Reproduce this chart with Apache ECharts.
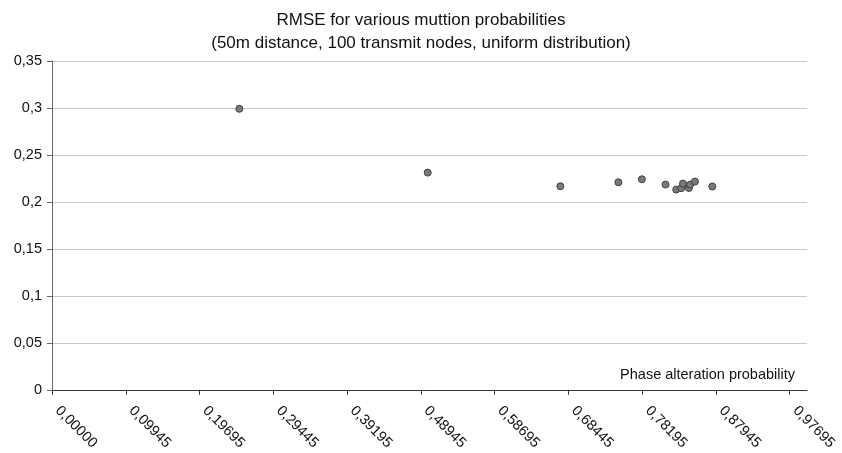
<!DOCTYPE html>
<html><head><meta charset="utf-8">
<script src="https://cdn.jsdelivr.net/npm/echarts@6/dist/echarts.min.js"></script>
<style>html,body{margin:0;padding:0;background:#fff}#c{width:842px;height:453px}</style>
</head><body><div id="c"></div>
<script>
var titleLines = ['RMSE for various muttion probabilities', '(50m distance, 100 transmit nodes, uniform distribution)'];
var xAxisName = 'Phase alteration probability';
var xTickValues = [0.00195, 0.09945, 0.19695, 0.29445, 0.39195, 0.48945, 0.58695, 0.68445, 0.78195, 0.87945, 0.97695];
var xTickLabels = ['0,00000', '0,09945', '0,19695', '0,29445', '0,39195', '0,48945', '0,58695', '0,68445', '0,78195', '0,87945', '0,97695'];
var yTickLabels = ['0', '0,05', '0,1', '0,15', '0,2', '0,25', '0,3', '0,35'];
var probX = [0.2496, 0.4986, 0.6739, 0.7507, 0.7817, 0.8130, 0.8271, 0.8337, 0.8360, 0.8439, 0.8456, 0.8519, 0.8748];
var rmseY = [0.2991, 0.2312, 0.2167, 0.2209, 0.2241, 0.2185, 0.2132, 0.2146, 0.2195, 0.2149, 0.2185, 0.2217, 0.2164];

var pts = probX.map(function (x, i) { return [x, rmseY[i]]; });
var chart = echarts.init(document.getElementById('c'));
var font = 'Liberation Sans, Arial, sans-serif';
chart.setOption({
  animation: false,
  backgroundColor: '#fff',
  title: {
    text: titleLines.join('\n'), left: 'center', top: 4,
    textStyle: { fontFamily: font, fontSize: 17, fontWeight: 'normal', color: '#111', lineHeight: 23 }
  },
  grid: { left: 52, right: 35, top: 61, bottom: 62, containLabel: false },
  xAxis: {
    type: 'value', min: 0.00195, max: 1.0, interval: 0.0975,
    name: xAxisName, nameLocation: 'end', nameGap: -12,
    nameTextStyle: { fontFamily: font, fontSize: 14.5, color: '#111', align: 'right', verticalAlign: 'bottom', padding: [0, 0, 7, 0] },
    axisLine: { show: true, lineStyle: { color: '#333', width: 1 } },
    axisTick: { show: true, length: 5, lineStyle: { color: '#333' }, customValues: xTickValues },
    axisLabel: {
      customValues: xTickValues, rotate: -45, margin: 13, padding: [0, 0, 0, 8],
      fontFamily: font, fontSize: 14.5, color: '#111',
      formatter: function (v) {
        var best = 0;
        for (var i = 0; i < xTickValues.length; i++) if (Math.abs(xTickValues[i] - v) < Math.abs(xTickValues[best] - v)) best = i;
        return xTickLabels[best];
      }
    },
    splitLine: { show: false }
  },
  yAxis: {
    type: 'value', min: 0, max: 0.35, interval: 0.05,
    axisLine: { show: true, lineStyle: { color: '#666', width: 1 } },
    axisTick: { show: true, length: 5, lineStyle: { color: '#666' } },
    axisLabel: {
      fontFamily: font, fontSize: 14.5, color: '#111', margin: 10,
      formatter: function (v) { return yTickLabels[Math.round(v / 0.05)]; }
    },
    splitLine: { show: true, lineStyle: { color: '#c8c8c8', width: 1 } }
  },
  series: [{
    type: 'scatter', data: pts, symbol: 'circle', symbolSize: 7,
    itemStyle: { color: '#7a7a7a', borderColor: '#404040', borderWidth: 1, opacity: 1 }
  }]
});
</script></body></html>
